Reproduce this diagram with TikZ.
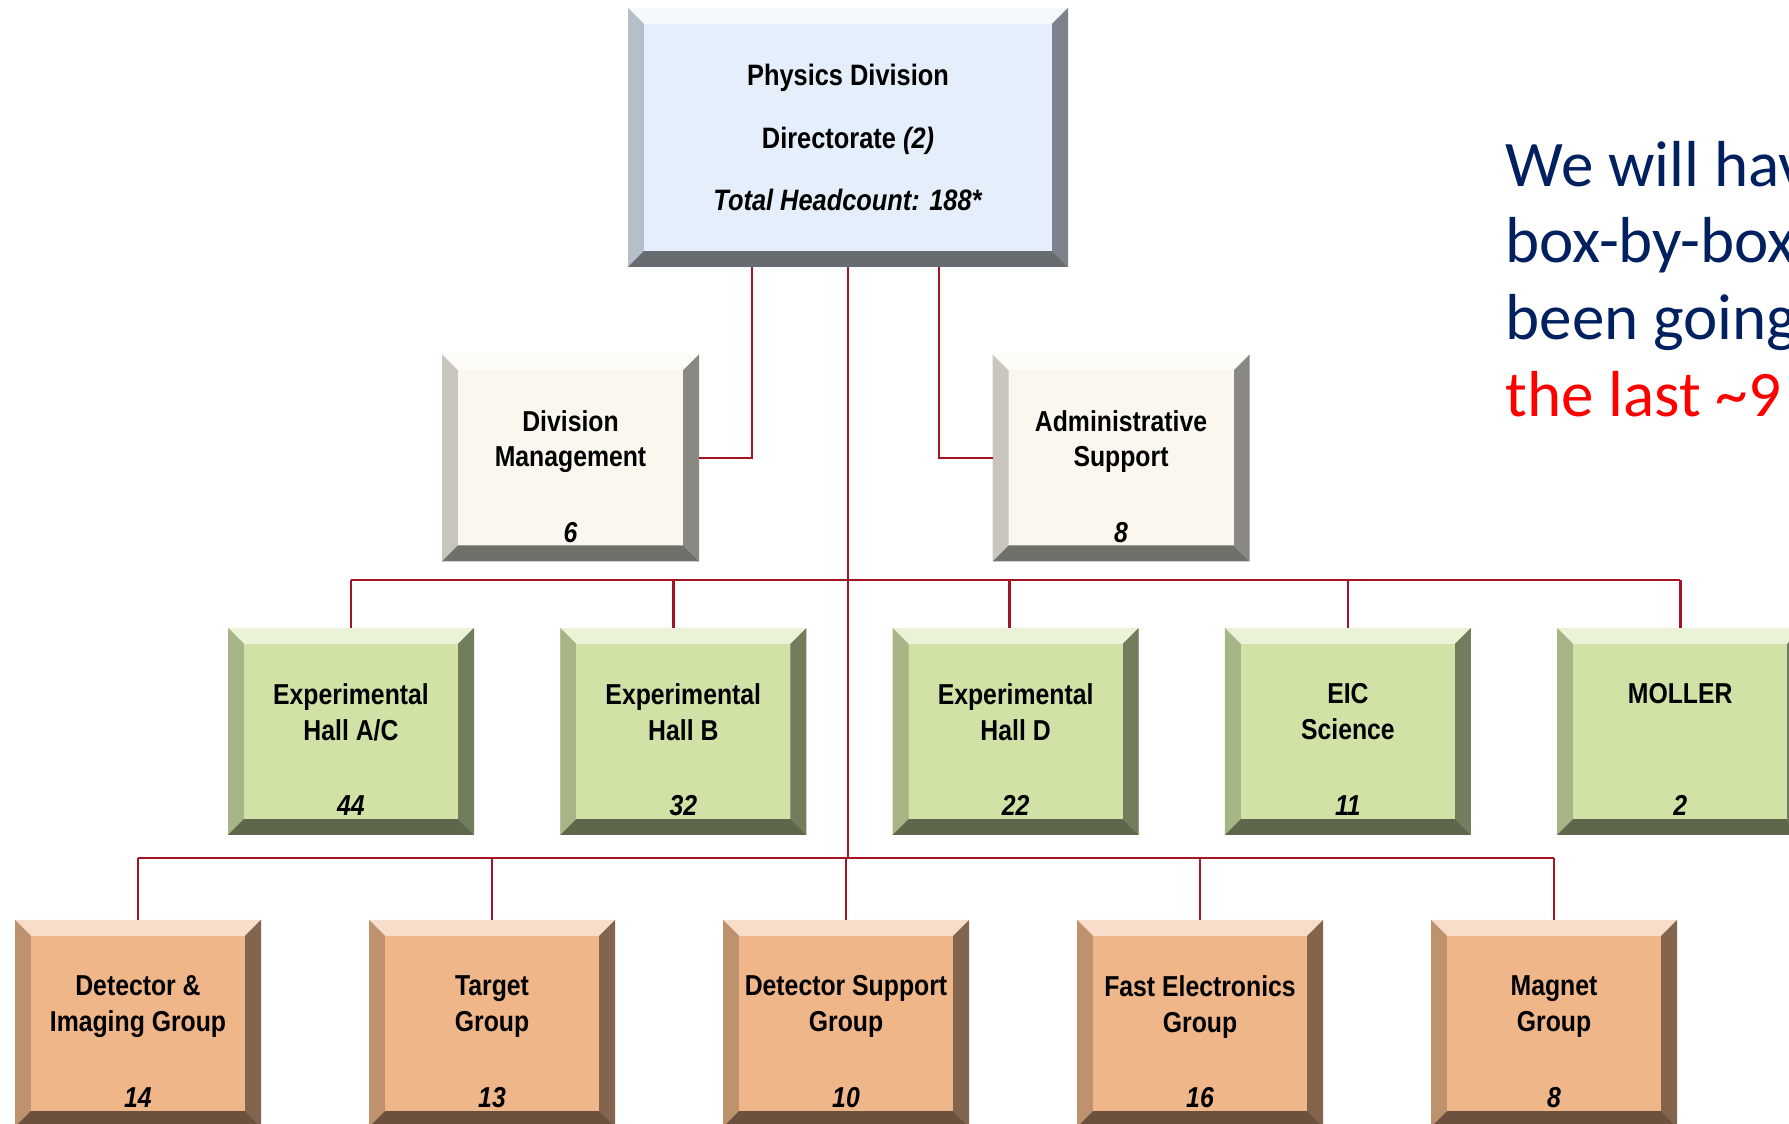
\documentclass[tikz,border=0pt]{standalone}
\usepackage{xcolor}
\usepackage{fontspec}
\usepackage{tikz}
\usetikzlibrary{positioning,calc}
\newfontfamily\boxfont[FakeStretch=0.86]{Liberation Sans}
\newfontfamily\notefont{Carlito}
\definecolor{dirface}{RGB}{228,239,251}
\definecolor{mgmtface}{RGB}{250,248,238}
\definecolor{hallface}{RGB}{209,226,167}
\definecolor{groupface}{RGB}{239,182,138}
\definecolor{linkred}{RGB}{165,20,35}
\definecolor{notenavy}{RGB}{0,32,96}
\definecolor{notered}{RGB}{255,0,0}

\begin{document}
\begin{tikzpicture}[
  bevel/.style={fill=#1, inner sep=0pt, outer sep=0pt, path picture={
      \coordinate (pa) at (path picture bounding box.north west);
      \coordinate (pb) at (path picture bounding box.north east);
      \coordinate (pc) at (path picture bounding box.south east);
      \coordinate (pd) at (path picture bounding box.south west);
      \fill[#1!45!white] (pa) -- (pb) -- ([shift={(-0.16,-0.16)}]pb) -- ([shift={(0.16,-0.16)}]pa) -- cycle;
      \fill[#1!80!black] (pa) -- (pd) -- ([shift={(0.16,0.16)}]pd) -- ([shift={(0.16,-0.16)}]pa) -- cycle;
      \fill[#1!55!black] (pb) -- (pc) -- ([shift={(-0.16,0.16)}]pc) -- ([shift={(-0.16,-0.16)}]pb) -- cycle;
      \fill[#1!45!black] (pd) -- (pc) -- ([shift={(-0.16,0.16)}]pc) -- ([shift={(0.16,0.16)}]pd) -- cycle;
      \fill[#1] ([shift={(0.16,-0.16)}]pa) rectangle ([shift={(-0.16,0.16)}]pc);
    }},
  topbox/.style={bevel=dirface, minimum width=4.40cm, minimum height=2.59cm, align=center,
                 font=\boxfont\bfseries\fontsize{8.4}{17.8}\selectfont},
  mgmtbox/.style={bevel=mgmtface, minimum width=2.57cm, minimum height=2.07cm},
  hallbox/.style={bevel=hallface, minimum width=2.46cm, minimum height=2.07cm},
  groupbox/.style={bevel=groupface, minimum width=2.46cm, minimum height=2.07cm},
  title/.style={anchor=north, inner sep=0pt, align=center,
                font=\boxfont\bfseries\fontsize{8.2}{10.2}\selectfont},
  count/.style={anchor=base, inner sep=0pt, font=\boxfont\bfseries\itshape\fontsize{8.2}{10.2}\selectfont},
  note/.style={anchor=base west, inner sep=0pt, font=\notefont\fontsize{18.5}{22}\selectfont},
  link/.style={draw=linkred, line width=0.75pt}
]
\useasboundingbox (0,0) rectangle (17.89,-11.24);

% directorate and staff
\node[topbox] (dir) at (8.48,-1.375) {Physics Division\\Directorate \textit{(2)}\\\textit{Total Headcount: 188*}};
\node[mgmtbox] (mgmt) at (5.705,-4.58) {};
\node[mgmtbox] (admin) at (11.21,-4.58) {};
\node[title] (mgmt-t) at ([yshift=-0.55cm]mgmt.north) {Division\\Management};
\node[count] (mgmt-n) at ([yshift=0.19cm]mgmt.south) {6};
\node[title] (admin-t) at ([yshift=-0.55cm]admin.north) {Administrative\\Support};
\node[count] (admin-n) at ([yshift=0.19cm]admin.south) {8};

% halls
\node[hallbox] (hallac) at (3.51,-7.315) {};
\node[hallbox, right=0.863cm of hallac] (hallb) {};
\node[hallbox, right=0.863cm of hallb] (halld) {};
\node[hallbox, right=0.863cm of halld] (eic) {};
\node[hallbox, right=0.863cm of eic] (moller) {};
\node[title] (hallac-t) at ([yshift=-0.55cm]hallac.north) {Experimental\\Hall A/C};
\node[count] (hallac-n) at ([yshift=0.19cm]hallac.south) {44};
\node[title] (hallb-t) at ([yshift=-0.55cm]hallb.north) {Experimental\\Hall B};
\node[count] (hallb-n) at ([yshift=0.19cm]hallb.south) {32};
\node[title] (halld-t) at ([yshift=-0.55cm]halld.north) {Experimental\\Hall D};
\node[count] (halld-n) at ([yshift=0.19cm]halld.south) {22};
\node[title] (eic-t) at ([yshift=-0.55cm]eic.north) {EIC\\Science};
\node[count] (eic-n) at ([yshift=0.19cm]eic.south) {11};
\node[title] (moller-t) at ([yshift=-0.55cm]moller.north) {MOLLER};
\node[count] (moller-n) at ([yshift=0.19cm]moller.south) {2};

% groups
\node[groupbox] (detimg) at (1.38,-10.235) {};
\node[groupbox, right=1.08cm of detimg] (target) {};
\node[groupbox, right=1.08cm of target] (detsup) {};
\node[groupbox, right=1.08cm of detsup] (fastel) {};
\node[groupbox, right=1.08cm of fastel] (magnet) {};
\node[title] (detimg-t) at ([yshift=-0.55cm]detimg.north) {Detector \&\\Imaging Group};
\node[count] (detimg-n) at ([yshift=0.19cm]detimg.south) {14};
\node[title] (target-t) at ([yshift=-0.55cm]target.north) {Target\\Group};
\node[count] (target-n) at ([yshift=0.19cm]target.south) {13};
\node[title] (detsup-t) at ([yshift=-0.55cm]detsup.north) {Detector Support\\Group};
\node[count] (detsup-n) at ([yshift=0.19cm]detsup.south) {10};
\node[title] (fastel-t) at ([yshift=-0.55cm]fastel.north) {Fast Electronics\\Group};
\node[count] (fastel-n) at ([yshift=0.19cm]fastel.south) {16};
\node[title] (magnet-t) at ([yshift=-0.55cm]magnet.north) {Magnet\\Group};
\node[count] (magnet-n) at ([yshift=0.19cm]magnet.south) {8};

% side note
\node[note, text=notenavy] (note1) at (15.05,-1.87) {We will hav};
\node[note, text=notenavy] (note2) at (15.05,-2.63) {box-by-box};
\node[note, text=notenavy] (note3) at (15.05,-3.40) {been going};
\node[note, text=notered] (note4) at (15.05,-4.17) {the last \textasciitilde9};

% connectors
\coordinate (bar3) at (0,-5.80);
\coordinate (bar4) at (0,-8.58);
\draw[link] ([xshift=-0.96cm]dir.south) |- (mgmt.east);
\draw[link] ([xshift=0.91cm]dir.south) |- (admin.west);
\draw[link] (dir.south) -- (dir.south |- bar4);
\draw[link] (hallac.north |- bar3) -- (moller.north |- bar3);
\draw[link] (hallac.north |- bar3) -- (hallac.north);
\draw[link] ([xshift=-0.1cm]hallb.north |- bar3) -- ([xshift=-0.1cm]hallb.north);
\draw[link] ([xshift=-0.06cm]halld.north |- bar3) -- ([xshift=-0.06cm]halld.north);
\draw[link] (eic.north |- bar3) -- (eic.north);
\draw[link] (moller.north |- bar3) -- (moller.north);
\draw[link] (detimg.north |- bar4) -- (magnet.north |- bar4);
\draw[link] (detimg.north |- bar4) -- (detimg.north);
\draw[link] (target.north |- bar4) -- (target.north);
\draw[link] (detsup.north |- bar4) -- (detsup.north);
\draw[link] (fastel.north |- bar4) -- (fastel.north);
\draw[link] (magnet.north |- bar4) -- (magnet.north);
\end{tikzpicture}
\end{document}
